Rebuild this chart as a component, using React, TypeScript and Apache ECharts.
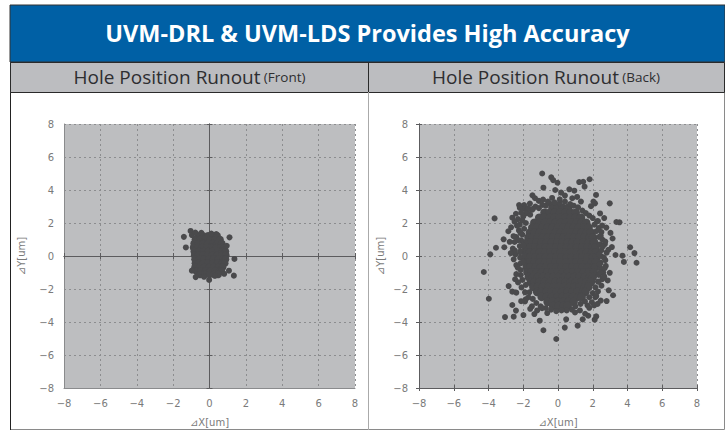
import React, { useEffect, useRef } from "react";
import * as echarts from "echarts";

const title = "UVM-DRL & UVM-LDS Provides High Accuracy";
const panelTitle = "Hole Position Runout";
const frontTag = "(Front)";
const backTag = "(Back)";
const xAxisName = "⊿X[um]";
const yAxisName = "⊿Y[um]";
const axisMin = -8;
const axisMax = 8;
const axisStep = 2;

// Each row is [y, x, x, x ...], solid core of the front cloud
const frontCoreRows: number[][] = [
  [1.22, -0.62, -0.35, -0.08, 0.2, 0.42],
  [1.0, -0.78, -0.52, -0.22, 0.05, 0.32, 0.58],
  [0.76, -0.85, -0.6, -0.34, -0.08, 0.18, 0.44, 0.68],
  [0.52, -0.88, -0.66, -0.4, -0.14, 0.12, 0.38, 0.64, 0.82],
  [0.28, -0.84, -0.58, -0.32, -0.06, 0.2, 0.46, 0.72, 0.88],
  [0.04, -0.82, -0.62, -0.36, -0.1, 0.16, 0.42, 0.68, 0.9],
  [-0.2, -0.8, -0.56, -0.3, -0.04, 0.22, 0.48, 0.74, 0.88],
  [-0.44, -0.78, -0.6, -0.34, -0.08, 0.18, 0.44, 0.7, 0.84],
  [-0.68, -0.8, -0.54, -0.28, -0.02, 0.24, 0.5, 0.72],
  [-0.92, -0.72, -0.48, -0.22, 0.04, 0.3, 0.56, 0.66],
  [-1.12, -0.52, -0.26, 0.0, 0.26, 0.48],
];
const frontOuterX = [-1.41, -1.04, -0.97, -1.3, 1.1, 0.37, 1.37, 1.34, 1.07, 0.81, -0.02, -0.76, -0.97, -0.78, 0.1, -0.3, 0.95, -0.45, 0.3];
const frontOuterY = [1.16, 1.52, 1.27, 0.52, 1.13, 1.33, -0.18, -1.19, -0.89, -1.08, -1.45, -1.28, -0.89, 1.42, 1.36, -1.26, 0.62, 1.4, -1.2];

// Each row is [y, x, x, x ...], solid core of the back cloud
const backCoreRows: number[][] = [
  [2.92, -0.32, -0.02, 0.28, 0.58],
  [2.62, -0.78, -0.48, -0.18, 0.12, 0.42, 0.72, 1.02],
  [2.32, -1.08, -0.78, -0.48, -0.18, 0.12, 0.42, 0.72, 1.02, 1.32],
  [2.02, -1.36, -1.04, -0.74, -0.44, -0.14, 0.16, 0.46, 0.76, 1.06, 1.36, 1.62],
  [1.72, -1.48, -1.2, -0.9, -0.6, -0.3, 0.0, 0.3, 0.6, 0.9, 1.2, 1.5, 1.76],
  [1.42, -1.62, -1.34, -1.04, -0.74, -0.44, -0.14, 0.16, 0.46, 0.76, 1.06, 1.36, 1.66, 1.9],
  [1.12, -1.7, -1.46, -1.18, -0.88, -0.58, -0.28, 0.02, 0.32, 0.62, 0.92, 1.22, 1.52, 1.82, 2.02],
  [0.82, -1.78, -1.54, -1.24, -0.94, -0.64, -0.34, -0.04, 0.26, 0.56, 0.86, 1.16, 1.46, 1.76, 2.08],
  [0.52, -1.84, -1.58, -1.3, -1.0, -0.7, -0.4, -0.1, 0.2, 0.5, 0.8, 1.1, 1.4, 1.7, 2.0, 2.16],
  [0.22, -1.86, -1.62, -1.34, -1.04, -0.74, -0.44, -0.14, 0.16, 0.46, 0.76, 1.06, 1.36, 1.66, 1.96, 2.2],
  [-0.08, -1.88, -1.6, -1.3, -1.0, -0.7, -0.4, -0.1, 0.2, 0.5, 0.8, 1.1, 1.4, 1.7, 2.0, 2.22],
  [-0.38, -1.86, -1.64, -1.34, -1.04, -0.74, -0.44, -0.14, 0.16, 0.46, 0.76, 1.06, 1.36, 1.66, 1.96, 2.18],
  [-0.68, -1.8, -1.58, -1.28, -0.98, -0.68, -0.38, -0.08, 0.22, 0.52, 0.82, 1.12, 1.42, 1.72, 2.02, 2.14],
  [-0.98, -1.76, -1.52, -1.22, -0.92, -0.62, -0.32, -0.02, 0.28, 0.58, 0.88, 1.18, 1.48, 1.78, 2.06],
  [-1.28, -1.68, -1.44, -1.16, -0.86, -0.56, -0.26, 0.04, 0.34, 0.64, 0.94, 1.24, 1.54, 1.84, 2.0],
  [-1.58, -1.56, -1.36, -1.06, -0.76, -0.46, -0.16, 0.14, 0.44, 0.74, 1.04, 1.34, 1.64, 1.9],
  [-1.88, -1.42, -1.16, -0.86, -0.56, -0.26, 0.04, 0.34, 0.64, 0.94, 1.24, 1.54, 1.74],
  [-2.18, -1.2, -0.96, -0.66, -0.36, -0.06, 0.24, 0.54, 0.84, 1.14, 1.44, 1.58],
  [-2.48, -0.94, -0.64, -0.34, -0.04, 0.26, 0.56, 0.86, 1.16, 1.36],
  [-2.78, -0.6, -0.3, 0.0, 0.3, 0.6, 0.9],
  [-3.02, -0.28, 0.02, 0.32, 0.56],
];
// Scattered ring and outliers of the back cloud
const backOuterX = [
  -0.91, -0.39, -0.28, -0.03, 1.22, 1.45, 1.82, 1.53, -0.84, -0.16, 0.18, 0.65, 0.94, 2.19, 2.98, 2.13, -1.47, -3.65, 3.54, 3.36,
  4.15, -3.57, -3.09, -3.13, -2.63, -2.24, -1.95, -3.9, -4.27, -3.98, -3.05, -2.55, -2.42, -2.63, -1.99, -1.36, -1.05, -0.84, -0.1, 0.39,
  0.47, 1.13, 1.42, 1.74, 2.11, 2.2, 2.8, 3.17, 2.92, 3.31, 3.71, 3.79, 4.4, 4.52, -2.84, -2.63, -2.47,
  -1.32, -1.1, -0.86, -0.58, -0.34, 0.1, 0.4, 0.82, 1.1, 1.32, 1.9, 2.04, -1.62, -1.94, -2.2, -2.42, -2.12, -1.78, -2.3, -2.5, -2.7, -2.86, -2.36, -2.16,
  -2.56, -2.78, -2.3, -2.0, -2.48, -2.18, -2.72, -2.0, -2.32, 2.42, 2.66, 2.3, 2.54, 2.78, 3.02, 3.14, 2.46, 2.72, 2.58, 2.9, 3.1, 2.36, 2.64, 2.4,
  2.68, 2.44, 2.62, 2.86, 2.98, 2.34, -1.72, -1.44, -1.6, -1.2, -0.62, -0.92, 0.98, 1.26, 1.56, 1.8, 2.08, 2.28, -1.86, -2.12, -2.4, 2.2, 2.46, 2.66, 1.98,
];
const backOuterY = [
  5.0, 4.77, 4.6, 4.44, 4.48, 4.5, 4.65, 4.2, 4.14, 4.0, 3.84, 4.04, 3.96, 3.7, 3.19, 3.19, 3.68, 2.28, 2.04, 2.06,
  0.53, 0.5, 0.53, 1.01, 2.32, 3.09, 3.09, 0.1, -0.97, -2.59, -3.7, -3.68, -3.31, -2.97, -3.58, -3.52, -3.92, -4.5, -5.03, -4.34,
  -3.84, -4.22, -3.84, -3.62, -3.86, -3.66, -2.73, -2.38, -2.08, 0.06, 0.02, -0.36, 0.18, -0.41, -1.82, -2.16, -1.41,
  3.5, 3.34, 3.42, 3.3, 3.52, 3.44, 3.66, 3.5, 3.58, 3.3, 3.02, 3.3, 3.18, 2.86, 2.92, 2.56, 2.62, 2.72, 2.24, 2.08, 1.74, 1.5, 1.84, 1.4,
  1.2, 0.86, 0.96, 0.66, 0.32, 0.22, 0.18, -0.34, -0.7, 2.58, 2.3, 2.12, 1.84, 1.72, 1.4, 1.06, 1.22, 0.88, 0.58, 0.38, 0.54, 0.1, -0.1, -0.5,
  -0.74, -1.0, -1.3, -1.48, -1.02, -1.56, 2.9, 2.86, -3.2, -3.3, -3.46, -3.16, -3.42, -3.3, -3.5, -3.14, -3.0, -2.9, -2.62, -2.74, -2.22, -2.42, -2.7, -1.24,
];
// Dense band that hugs the solid core of the back cloud
const backBandX = [
  -2.0, -1.8, -1.6, -1.5, -1.3, -1.1, -0.9, -0.7, -0.5, -0.2, 0.1, 0.4, 0.7, 0.9, 1.15, 1.4, 1.6, 1.8, 2.0, 2.25, 2.1, 2.35, 2.2, 2.5, 2.35, 2.55, 2.42, 2.7, 2.5, 2.8,
  2.48, 2.72, 2.45, 2.75, 2.42, 2.6, 2.35, 2.55, 2.3, 2.5, 2.15, 2.3, 2.0, 2.15, 1.8, 1.95, 1.55, 1.7, 1.3, 1.0, 0.8, 0.5, 0.2, -0.1, -0.4, -0.7, -1.0, -1.25, -1.5, -1.45,
  -1.7, -1.9, -1.65, -1.9, -2.1, -1.85, -2.05, -2.3, -2.15, -2.4, -2.15, -2.4, -2.15, -2.55, -2.18, -2.45, -2.15, -2.6, -2.2, -2.5, -2.12, -2.4, -2.05, -2.25, -1.95, -2.2, -1.85, -2.05,
];
const backBandY = [
  2.4, 2.6, 2.5, 2.8, 3.0, 2.9, 3.1, 3.05, 3.2, 3.25, 3.2, 3.3, 3.15, 3.05, 2.95, 2.75, 2.6, 2.45, 2.3, 2.1, 1.9, 1.7, 1.5, 1.45, 1.15, 1.0, 0.7, 0.72, 0.35, 0.2,
  0.0, -0.25, -0.4, -0.6, -0.75, -1.0, -1.15, -1.4, -1.55, -1.8, -1.9, -2.15, -2.25, -2.5, -2.5, -2.8, -2.75, -3.0, -2.9, -3.05, -3.25, -3.3, -3.3, -3.35, -3.25, -3.15, -3.05, -2.85, -3.05, -2.6,
  -2.5, -2.75, -2.2, -2.2, -1.9, -1.75, -1.45, -1.6, -1.15, -1.1, -0.85, -0.55, -0.45, -0.2, -0.1, 0.1, 0.3, 0.45, 0.6, 0.85, 0.95, 1.15, 1.3, 1.55, 1.65, 1.9, 2.0, 2.15,
];

const rowsToPoints = (rows: number[][]) =>
  rows.flatMap(([y, ...xs]) => xs.map((x) => [x, y]));
const zip = (xs: number[], ys: number[]) => xs.map((x, i) => [x, ys[i]]);

const frontCore = rowsToPoints(frontCoreRows);
const frontOuter = zip(frontOuterX, frontOuterY);
const backCore = rowsToPoints(backCoreRows);
const backOuter = [...zip(backBandX, backBandY), ...zip(backOuterX, backOuterY)];

const labelStyle = { color: "#7a7a7a", fontSize: 10, fontFamily: "DejaVu Sans" };
const gridLine = { show: true, lineStyle: { color: "#8c8d8f", type: [2, 3], width: 1 } };
const crossColor = "#5c5c5e";
const fmt = (v: number) => String(v).replace("-", "\u2212");

function valueAxis(gridIndex: number, name: string, nameGap: number, margin: number) {
  return {
    type: "value",
    gridIndex,
    min: axisMin,
    max: axisMax,
    interval: axisStep,
    name,
    nameLocation: "middle",
    nameGap,
    nameTextStyle: { ...labelStyle, fontSize: 10 },
    axisLine: { onZero: false, show: true, lineStyle: { color: "#8a8b8d", width: 1 } },
    axisTick: { show: false },
    axisLabel: { ...labelStyle, margin, formatter: fmt, showMinLabel: true, showMaxLabel: true },
    splitLine: gridLine,
  };
}
function crossAxis(gridIndex: number, inside: boolean, pos: string) {
  return {
    type: "value",
    gridIndex,
    position: pos,
    min: axisMin,
    max: axisMax,
    interval: axisStep,
    axisLine: { show: true, onZero: true, onZeroAxisIndex: 0, lineStyle: { color: crossColor, width: 1 } },
    axisTick: { show: true, inside, length: 3, lineStyle: { color: crossColor } },
    axisLabel: { show: false },
    splitLine: { show: false },
  };
}

export default function App() {
  const ref = useRef<HTMLDivElement>(null);
  useEffect(() => {
    const chart = echarts.init(ref.current!, null, { renderer: "svg" });
    const dot = { color: "#4a4a4c", opacity: 1 };
    const rich = {
      a: { fontFamily: "Open Sans", fontSize: 19, fill: "#2e2e30" },
      b: { fontFamily: "Open Sans", fontSize: 13.5, fill: "#2e2e30" },
    };
    chart.setOption({
      animation: false,
      backgroundColor: "#ffffff",
      grid: [
        { left: 64, top: 124, width: 291, height: 266, show: true, backgroundColor: "#bdbec0", borderWidth: 0 },
        { left: 419, top: 124, width: 278, height: 264, show: true, backgroundColor: "#bdbec0", borderWidth: 0 },
      ],
      xAxis: [
        valueAxis(0, xAxisName, 29, 10),
        crossAxis(0, true, "bottom"),
        crossAxis(0, false, "bottom"),
        valueAxis(1, xAxisName, 29, 10),
        crossAxis(1, true, "bottom"),
        crossAxis(1, false, "bottom"),
      ],
      yAxis: [
        valueAxis(0, yAxisName, 38, 10),
        crossAxis(0, true, "left"),
        crossAxis(0, false, "left"),
        valueAxis(1, yAxisName, 34, 11),
        crossAxis(1, true, "left"),
        crossAxis(1, false, "left"),
      ],
      series: [
        { type: "scatter", xAxisIndex: 0, yAxisIndex: 0, data: frontCore, symbolSize: 7.5, itemStyle: dot, z: 5 },
        { type: "scatter", xAxisIndex: 0, yAxisIndex: 0, data: frontOuter, symbolSize: 6, itemStyle: dot, z: 5 },
        { type: "scatter", xAxisIndex: 3, yAxisIndex: 3, data: backCore, symbolSize: 8.5, itemStyle: dot, z: 5 },
        { type: "scatter", xAxisIndex: 3, yAxisIndex: 3, data: backOuter, symbolSize: 6, itemStyle: dot, z: 5 },
      ],
      graphic: [
        { type: "rect", z: -1, shape: { x: 10.5, y: 5.5, width: 714, height: 424 }, style: { fill: "none", stroke: "#8a8a8a", lineWidth: 1 } },
        { type: "line", shape: { x1: 10.5, y1: 5, x2: 10.5, y2: 430 }, style: { stroke: "#222", lineWidth: 1 } },
        { type: "rect", shape: { x: 10, y: 5, width: 715, height: 57 }, style: { fill: "#0060a5", stroke: "#333", lineWidth: 1 } },
        { type: "rect", shape: { x: 10.5, y: 62.5, width: 714, height: 30 }, style: { fill: "#bcbdc0", stroke: "#2a2a2a", lineWidth: 1 } },
        { type: "line", shape: { x1: 368.5, y1: 62, x2: 368.5, y2: 92 }, style: { stroke: "#2a2a2a", lineWidth: 1 } },
        { type: "line", shape: { x1: 368.5, y1: 92, x2: 368.5, y2: 430 }, style: { stroke: "#aaaaaa", lineWidth: 1 } },
        {
          type: "text", x: 367.5, y: 33,
          style: { text: title, fill: "#ffffff", fontFamily: "Open Sans", fontWeight: 700, fontSize: 23.5, align: "center", verticalAlign: "middle" },
        },
        {
          type: "text", x: 189.5, y: 77,
          style: { text: `{a|${panelTitle}} {b|${frontTag}}`, align: "center", verticalAlign: "middle", rich },
        },
        {
          type: "text", x: 546, y: 77,
          style: { text: `{a|${panelTitle}} {b|${backTag}}`, align: "center", verticalAlign: "middle", rich },
        },
      ],
    });
    return () => chart.dispose();
  }, []);
  return <div ref={ref} style={{ position: "absolute", left: 0, top: 0, width: 725, height: 432 }} />;
}
